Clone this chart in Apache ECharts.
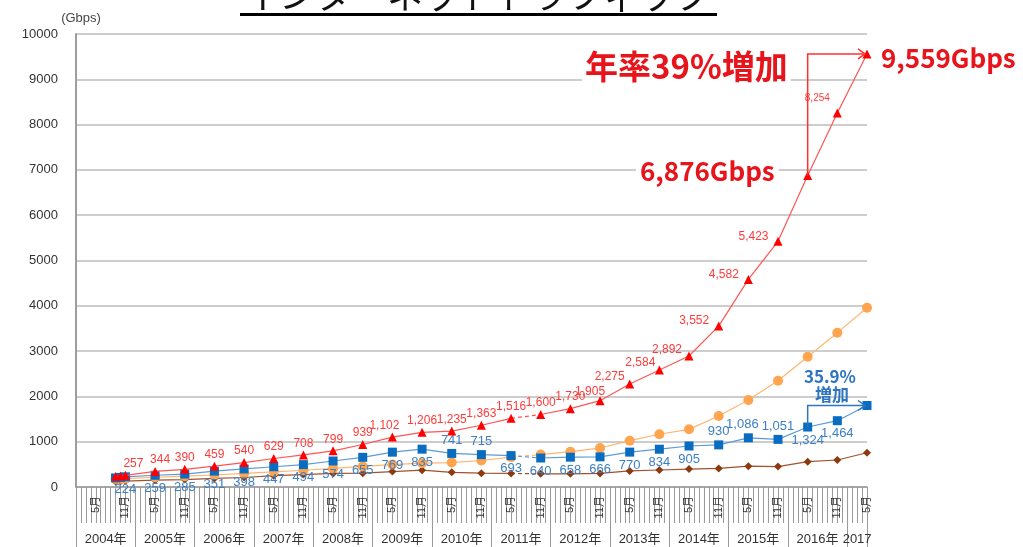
<!DOCTYPE html>
<html>
<head>
<meta charset="utf-8">
<script src="https://cdn.jsdelivr.net/npm/echarts@6/dist/echarts.min.js"></script>
<style>
  html, body { margin: 0; padding: 0; background: #fff; }
  #chart { width: 1023px; height: 547px; }
</style>
</head>
<body>
<div id="chart"></div>
<script>
// 観測月（2004年1月 = 0 として月単位で配置）
const months = ['2004-09', '2004-10', '2004-11',
  '2005-05', '2005-11', '2006-05', '2006-11', '2007-05', '2007-11',
  '2008-05', '2008-11', '2009-05', '2009-11', '2010-05', '2010-11',
  '2011-05', '2011-11', '2012-05', '2012-11', '2013-05', '2013-11',
  '2014-05', '2014-11', '2015-05', '2015-11', '2016-05', '2016-11', '2017-05'];

// 各系列 (Gbps)
const redVals = [232, 245, 257, 344, 390, 459, 540, 629, 708, 799, 939, 1102, 1206, 1235,
  1363, 1516, 1600, 1730, 1905, 2275, 2584, 2892, 3552, 4582, 5423, 6876, 8254, 9559];
const blueVals = [200, 212, 224, 259, 285, 351, 398, 447, 494, 574, 655, 769, 835, 741,
  715, 693, 640, 658, 666, 770, 834, 905, 930, 1086, 1051, 1324, 1464, 1799];
const orangeVals = [175, 180, 185, 215, 240, 265, 300, 335, 370, 410, 455, 495, 525, 540,
  585, 660, 715, 780, 860, 1022, 1165, 1273, 1567, 1920, 2345, 2877, 3407, 3958];
const brownVals = [120, 125, 130, 150, 165, 190, 210, 250, 275, 300, 305, 340, 372, 325,
  305, 300, 290, 290, 300, 355, 375, 395, 410, 460, 450, 560, 596, 757];

const yTicks = [0, 10000, 1000];
const years = [2004, 2005, 2006, 2007, 2008, 2009, 2010, 2011, 2012, 2013, 2014, 2015, 2016, 2017];
const lastMonth = 160; // 2017-05

// ラベルの出し方
const redNoLabel = ['2004-09', '2004-10', '2016-05', '2017-05'];
const redLabelShift = { '2004-11': [8, 0], '2005-05': [5, 0], '2009-05': [-8, 0], '2012-11': [-10, 2],
  '2013-05': [-20, 4], '2013-11': [-19, 4], '2014-05': [-22, 5] };
const redLabelLeft = ['2014-11', '2015-05', '2015-11'];
const blueNoLabel = ['2004-09', '2004-10', '2017-05'];
const blueLabelTop = ['2010-05', '2010-11', '2014-11', '2015-05', '2015-11'];
const breakMonth = '2011-11';

function monthIdx(m) {
  const [y, mo] = m.split('-').map(Number);
  return (y - 2004) * 12 + (mo - 1);
}
const fmt = (n) => String(n).replace(/\B(?=(\d{3})+(?!\d))/g, ',');

function redLabel(m) {
  if (redNoLabel.includes(m)) return { show: false };
  if (m === '2016-11') return { show: true, position: 'left', offset: [2, -15], fontSize: 10 };
  if (redLabelLeft.includes(m)) return { show: true, position: 'left', offset: [0, -5] };
  return { show: true, position: 'top', distance: 1, offset: redLabelShift[m] || [0, 0] };
}
function blueLabel(m) {
  if (blueNoLabel.includes(m)) return { show: false };
  if (blueLabelTop.includes(m)) return { show: true, position: 'top', distance: 2, offset: m === '2015-05' ? [-6, 0] : [0, 0] };
  return { show: true, position: 'bottom', distance: 2 };
}

function buildSeries(vals, opt) {
  const pts = months.map((m, i) => ({
    value: [monthIdx(m), vals[i]],
    label: opt.labelFn ? opt.labelFn(m) : { show: false }
  }));
  const b = months.indexOf(breakMonth);
  const base = {
    type: 'line',
    symbol: opt.symbol,
    symbolSize: opt.size,
    z: opt.z,
    itemStyle: { color: opt.color },
    lineStyle: { color: opt.line, width: 1.2 },
    label: { color: opt.labelColor, fontSize: opt.labelSize || 12, formatter: (p) => fmt(p.value[1]) },
    emphasis: { disabled: true }
  };
  return [
    Object.assign({}, base, { data: pts.slice(0, b) }),
    Object.assign({}, base, { data: pts.slice(b) }),
    Object.assign({}, base, {
      data: [pts[b - 1].value, pts[b].value], symbol: 'none',
      lineStyle: { color: opt.line, width: 1.2, type: [4, 3] }
    })
  ];
}

const chart = echarts.init(document.getElementById('chart'));

const monthLabelIdx = [];
for (let v = 4; v <= lastMonth; v += 6) monthLabelIdx.push(v);
const yearTicks = years.map((y) => (y - 2004) * 12).concat([lastMonth]);
const yearCenters = years.map((y) => Math.min((y - 2004) * 12 + 6, (lastMonth + (2017 - 2004) * 12) / 2));

const option = {
  animation: false,
  textStyle: { fontFamily: "'Liberation Sans', 'Noto Sans CJK JP', sans-serif" },
  grid: { left: 76, right: 156, top: 34, bottom: 60 },
  xAxis: [
    {
      type: 'value', min: 0, max: lastMonth, interval: 1, position: 'bottom',
      axisLine: { lineStyle: { color: '#999', width: 1.5 } },
      axisTick: { length: 36, lineStyle: { color: '#9a9a9a' } },
      splitLine: { show: false },
      axisLabel: {
        customValues: monthLabelIdx,
        formatter: (v) => (v % 12 === 4 ? '5月' : '11月'),
        rotate: 90, margin: 9, fontSize: 11, color: '#333'
      }
    },
    {
      type: 'value', min: 0, max: lastMonth, position: 'bottom', offset: 0,
      axisLine: { show: false },
      splitLine: { show: false },
      axisTick: { customValues: yearTicks, length: 60, lineStyle: { color: '#9a9a9a' } },
      axisLabel: {
        customValues: yearCenters,
        formatter: (v) => {
          const y = 2004 + Math.floor(v / 12);
          return y === 2017 ? '2017' : y + '年';
        },
        margin: 46, fontSize: 13, color: '#333'
      }
    }
  ],
  yAxis: [
    {
      type: 'value', min: yTicks[0], max: yTicks[1], interval: yTicks[2],
      name: '(Gbps)', nameLocation: 'end', nameGap: 9,
      nameTextStyle: { color: '#444', fontSize: 13, padding: [0, 0, 0, 10] },
      axisLine: { show: true, lineStyle: { color: '#999', width: 1.5 } },
      axisTick: { show: false },
      axisLabel: { color: '#333', fontSize: 13, margin: 18, formatter: (v) => String(v) },
      splitLine: { lineStyle: { color: '#bdbdbd', width: 1.5 } }
    },
    {
      type: 'value', min: yTicks[0], max: yTicks[1], interval: yTicks[2], position: 'right',
      axisLine: { show: true, lineStyle: { color: '#999', width: 1.5 } },
      axisTick: { show: false }, axisLabel: { show: false }, splitLine: { show: false }
    }
  ],
  series: [].concat(
    buildSeries(brownVals, { symbol: 'diamond', size: 8, color: '#8B3A0F', line: '#A0522D', z: 2 }),
    buildSeries(orangeVals, { symbol: 'circle', size: 10, color: '#FFA54F', line: '#FFB570', z: 3 }),
    buildSeries(blueVals, { symbol: 'rect', size: 9, color: '#0A6CC0', line: '#5B9BD5', z: 4,
      labelFn: blueLabel, labelColor: '#3C7FC4', labelSize: 13 }),
    buildSeries(redVals, { symbol: 'triangle', size: 9, color: '#FF0000', line: '#FF5555', z: 5,
      labelFn: redLabel, labelColor: '#FF3B3B', labelSize: 12 })
  )
};
chart.setOption(option);

// 注釈（矢印と大きな文字）
const toPx = (m, v) => chart.convertToPixel({ xAxisIndex: 0, yAxisIndex: 0 }, [monthIdx(m), v]);
const r0 = toPx('2016-05', redVals[months.indexOf('2016-05')]);
const r1 = toPx('2017-05', redVals[months.indexOf('2017-05')]);
const b0 = toPx('2016-05', blueVals[months.indexOf('2016-05')]);
const b1 = toPx('2017-05', blueVals[months.indexOf('2017-05')]);

function arrow(p0, p1, color) {
  return [
    { type: 'polyline', z: 50, shape: { points: [[p0[0], p0[1]], [p0[0], p1[1]], [p1[0] - 2, p1[1]]] },
      style: { stroke: color, lineWidth: 1.5, fill: null } },
    { type: 'polyline', z: 50, shape: { points: [[p1[0] - 9, p1[1] - 5], [p1[0] - 2, p1[1]], [p1[0] - 9, p1[1] + 5]] },
      style: { stroke: color, lineWidth: 1.5, fill: null } }
  ];
}

chart.setOption({
  graphic: [].concat(
    arrow(r0, r1, '#FF3030'),
    arrow(b0, b1, '#2E75C0'),
    [
      { type: 'text', x: 243, y: 13, z: 60,
        style: { text: 'インターネットトラフィック', font: "36px 'Noto Sans CJK JP'", fill: '#111', textVerticalAlign: 'bottom' } },
      { type: 'rect', z: 60, shape: { x: 240, y: 13, width: 477, height: 3 }, style: { fill: '#000' } },
      { type: 'text', x: 582, y: 66, z: 60,
        style: { text: '年率39%増加', font: "bold 33px 'Noto Sans CJK JP'", fill: '#E8141B',
          textVerticalAlign: 'middle', backgroundColor: '#fff', padding: [0, 3] } },
      { type: 'text', x: 881, y: 58, z: 60,
        style: { text: '9,559Gbps', font: "bold 26px 'Noto Sans CJK JP'", fill: '#E8141B', textVerticalAlign: 'middle' } },
      { type: 'text', x: 636, y: 171, z: 60,
        style: { text: '6,876Gbps', font: "bold 26px 'Noto Sans CJK JP'", fill: '#E8141B',
          textVerticalAlign: 'middle', backgroundColor: '#fff', padding: [0, 4] } },
      { type: 'text', x: 830, y: 377, z: 60,
        style: { text: '35.9%', font: "bold 17px 'Noto Sans CJK JP'", fill: '#2E75C0', textAlign: 'center', textVerticalAlign: 'middle' } },
      { type: 'text', x: 832, y: 395, z: 60,
        style: { text: '増加', font: "bold 17px 'Noto Sans CJK JP'", fill: '#2E75C0', textAlign: 'center', textVerticalAlign: 'middle' } }
    ]
  )
});
</script>
</body>
</html>
